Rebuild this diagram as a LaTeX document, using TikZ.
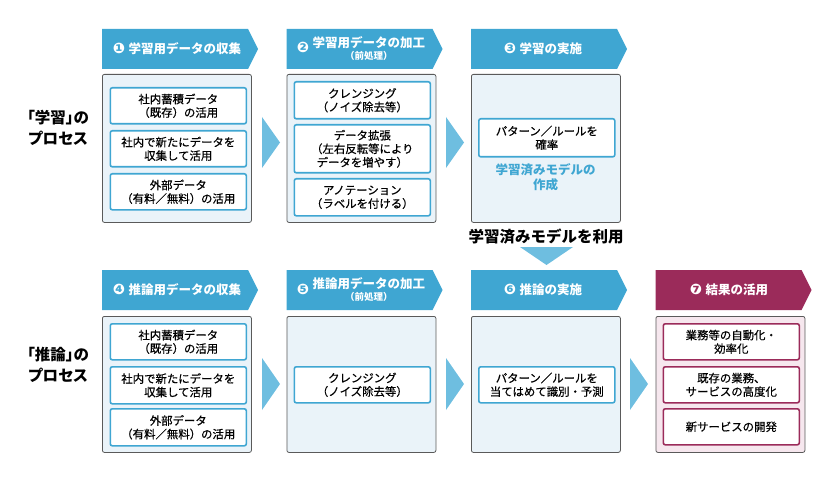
\documentclass[tikz,border=0pt]{standalone}
\usepackage{fontspec}
\setmainfont{Noto Sans CJK JP}
\newfontfamily\jpm{Noto Sans CJK JP}[FakeBold=0.5]
\newfontfamily\jpp{Noto Sans CJK JP}[RawFeature=+palt]
\newfontfamily\dv{DejaVu Sans}
\newcommand\circnum[1]{{\dv\fontsize{14.5}{14}\selectfont #1}\hspace{3.5pt}}
\definecolor{bblue}{HTML}{3FA6D2}
\definecolor{lblue}{HTML}{6EBEE0}
\definecolor{pale}{HTML}{EAF3F9}
\definecolor{mag}{HTML}{9B2B5A}
\definecolor{pinkf}{HTML}{F6E7EE}
\definecolor{edge}{HTML}{5A5A5A}
\begin{document}
\begin{tikzpicture}[x=1pt,y=-1pt,
  outerbox/.style={draw=edge, line width=0.8pt, fill=pale, rounded corners=2pt,
    minimum width=149pt, anchor=north west, inner sep=0pt},
  innerbox/.style={draw=bblue, line width=1.6pt, fill=white, rounded corners=2pt,
    minimum width=136pt, anchor=north west, inner sep=0pt, align=center,
    font=\jpm\fontsize{11.4}{13.5}\selectfont},
  magbox/.style={innerbox, draw=mag},
  btext/.style={text=white, font=\bfseries\fontsize{12.5}{12}\selectfont, inner sep=0pt},
  sidelabel/.style={align=center, font=\jpp\bfseries\fontsize{15.5}{21}\selectfont, inner sep=0pt},
  chev/.style={fill=lblue},
]
\useasboundingbox (0,0) rectangle (840,481);
% ---------- top row banners ----------
\fill[bblue] (102,29) -- ++(146,0) -- ++(10,20) -- ++(-10,20) -- ++(-146,0) -- cycle;
\fill[bblue] (286.5,29) -- ++(146,0) -- ++(10,20) -- ++(-10,20) -- ++(-146,0) -- cycle;
\fill[bblue] (471,29) -- ++(146,0) -- ++(10,20) -- ++(-10,20) -- ++(-146,0) -- cycle;
\node[btext] (b1) at (177,49) {\circnum{❶}学習用データの収集};
\node[btext] (b2) at (361,50) {\circnum{❷}\begin{tabular}{@{}c@{}}学習用データの加工\\{\fontsize{9.5}{12}\selectfont （前処理）}\end{tabular}};
\node[btext] (b3) at (543,49) {\circnum{❸}学習の実施};
% ---------- bottom row banners ----------
\fill[bblue] (102,270) -- ++(146,0) -- ++(10,20) -- ++(-10,20) -- ++(-146,0) -- cycle;
\fill[bblue] (286.5,270) -- ++(146,0) -- ++(10,20) -- ++(-10,20) -- ++(-146,0) -- cycle;
\fill[bblue] (471,270) -- ++(146,0) -- ++(10,20) -- ++(-10,20) -- ++(-146,0) -- cycle;
\fill[mag] (655.5,270) -- ++(146,0) -- ++(10,20) -- ++(-10,20) -- ++(-146,0) -- cycle;
\node[btext] (b4) at (177,290) {\circnum{❹}推論用データの収集};
\node[btext] (b5) at (361,291) {\circnum{❺}\begin{tabular}{@{}c@{}}推論用データの加工\\{\fontsize{9.5}{12}\selectfont （前処理）}\end{tabular}};
\node[btext] (b6) at (543,290) {\circnum{❻}推論の実施};
\node[btext] (b7) at (729,290) {\circnum{❼}結果の活用};
% ---------- side labels ----------
\node[sidelabel] (l1) at (58,127.5) {「学習」の\\プロセス};
\node[sidelabel] (l2) at (58,365) {「推論」の\\プロセス};
% ---------- top row boxes ----------
\node[outerbox, minimum height=148pt] (o1) at (102,74) {};
\node[outerbox, minimum height=148pt] (o2) at (286.5,74) {};
\node[outerbox, minimum height=148pt] (o3) at (471,74) {};
\node[innerbox, minimum height=36pt] (a1) at (109.5,87) {社内蓄積データ\\（既存）の活用};
\node[innerbox, minimum height=36pt] (a2) at (109.5,130) {社内で新たにデータを\\収集して活用};
\node[innerbox, minimum height=36pt] (a3) at (109.5,173) {外部データ\\（有料／無料）の活用};
\node[innerbox, minimum height=37pt] (p1) at (293.5,81) {クレンジング\\（ノイズ除去等）};
\node[innerbox, minimum height=48pt] (p2) at (293.5,124) {データ拡張\\（左右反転等により\\データを増やす）};
\node[innerbox, minimum height=37pt] (p3) at (293.5,178) {アノテーション\\（ラベルを付ける）};
\node[innerbox, minimum height=38pt] (t1) at (478,118) {パターン／ルールを\\確率};
\node[align=center, text=bblue, font=\bfseries\fontsize{12.5}{15}\selectfont, inner sep=0pt] (t2) at (545.5,177.5) {学習済みモデルの\\作成};
% ---------- arrows top ----------
\fill[chev] (262,117) -- (280,142.5) -- (262,168) -- cycle;
\fill[chev] (446,117) -- (464,142.5) -- (446,168) -- cycle;
% ---------- middle ----------
\node[font=\bfseries\fontsize{15.5}{18}\selectfont, inner sep=0pt] (use) at (546,237) {学習済みモデルを利用};
\fill[chev] (520,247) -- (573,247) -- (546.5,265) -- cycle;
% ---------- bottom row boxes ----------
\node[outerbox, minimum height=136pt] (o4) at (102,316) {};
\node[outerbox, minimum height=136pt] (o5) at (286.5,316) {};
\node[outerbox, minimum height=136pt] (o6) at (471,316) {};
\node[outerbox, minimum height=136pt, fill=pinkf] (o7) at (655.5,316) {};
\node[innerbox, minimum height=36pt] (c1) at (109.5,323) {社内蓄積データ\\（既存）の活用};
\node[innerbox, minimum height=37pt] (c2) at (109.5,366) {社内で新たにデータを\\収集して活用};
\node[innerbox, minimum height=37pt] (c3) at (109.5,408) {外部データ\\（有料／無料）の活用};
\node[innerbox, minimum height=36pt] (q1) at (293.5,366) {クレンジング\\（ノイズ除去等）};
\node[innerbox, minimum height=36pt] (r1) at (478,366) {パターン／ルールを\\当てはめて識別・予測};
\node[magbox, minimum height=36pt] (m1) at (662.5,323) {業務等の自動化・\\効率化};
\node[magbox, minimum height=36pt] (m2) at (662.5,366) {既存の業務、\\サービスの高度化};
\node[magbox, minimum height=36pt] (m3) at (662.5,408) {新サービスの開発};
% ---------- arrows bottom ----------
\fill[chev] (262,358) -- (280,384) -- (262,410) -- cycle;
\fill[chev] (446,358) -- (464,384) -- (446,410) -- cycle;
\fill[chev] (630,358) -- (648,384) -- (630,410) -- cycle;
\end{tikzpicture}
\end{document}
